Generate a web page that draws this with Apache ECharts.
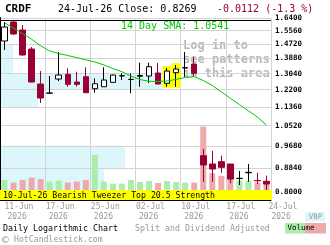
<!DOCTYPE html>
<html><head><meta charset="utf-8">
<script src="https://cdn.jsdelivr.net/npm/echarts@6/dist/echarts.min.js"></script>
<style>html,body{margin:0;padding:0;background:#fff}#c{width:330px;height:245px}</style>
</head><body><div id="c"></div>
<script>
const ticker = 'CRDF';
const dates = ['11-Jun-26','12-Jun-26','15-Jun-26','16-Jun-26','17-Jun-26','18-Jun-26','22-Jun-26','23-Jun-26','24-Jun-26','25-Jun-26','26-Jun-26','29-Jun-26','30-Jun-26','01-Jul-26','02-Jul-26','06-Jul-26','07-Jul-26','08-Jul-26','09-Jul-26','10-Jul-26','13-Jul-26','14-Jul-26','15-Jul-26','16-Jul-26','17-Jul-26','20-Jul-26','21-Jul-26','22-Jul-26','23-Jul-26','24-Jul-26'];
const open  = [1.4915,1.6131,1.5607,1.4430,1.2489,1.2025,1.2749,1.2999,1.2592,1.2870,1.2249,1.2350,1.2577,1.2915,1.2725,1.2895,1.2908,1.3069,1.2525,1.3085,1.3350,1.3563,0.9292,0.8979,0.9065,0.8979,0.8455,0.8660,0.8390,0.8360];
const high  = [1.6131,1.6280,1.5933,1.4550,1.3177,1.2908,1.4252,1.3325,1.3139,1.3380,1.2786,1.3380,1.2980,1.3053,1.3053,1.3636,1.3636,1.3620,1.3341,1.3507,1.4252,1.3961,0.9553,0.9474,0.9292,0.8979,0.8724,0.8979,0.8662,0.8560];
const low   = [1.4370,1.5300,1.4050,1.2580,1.1549,1.2020,1.2644,1.2350,1.2350,1.2040,1.2050,1.2340,1.2570,1.2697,1.2020,1.2350,1.2540,1.2489,1.2350,1.2350,1.2870,1.2870,0.8346,0.8346,0.8662,0.8292,0.8235,0.8346,0.8269,0.8040];
const close = [1.5802,1.5352,1.4077,1.2592,1.1789,1.2035,1.2961,1.2473,1.2473,1.2050,1.2504,1.2697,1.2961,1.2924,1.2733,1.2935,1.3413,1.2489,1.3177,1.3286,1.3358,1.3053,0.8943,0.8796,0.8858,0.8440,0.8465,0.8677,0.8381,0.8269];
const volume = [100,87,100,112,105,92,97,87,92,100,225,92,82,82,100,90,95,85,95,90,87,87,367,134,120,105,97,97,87,92];
const sma14 = [1.6085,1.5730,1.5377,1.5026,1.4622,1.4317,1.4164,1.4048,1.3927,1.3801,1.3677,1.3512,1.3314,1.3139,1.2908,1.2722,1.2628,1.2618,1.2644,1.2733,1.2828,1.2876,1.2670,1.2415,1.2089,1.1779,1.1477,1.1184,1.0896,1.0541];
const vbpLow    = [0.800,0.884,1.136,1.220,1.304,1.388];
const vbpHigh   = [0.884,0.968,1.220,1.304,1.388,1.472];
const vbpVolume = [104,125,38,163,13,13];
const yTicks = [0.8000,0.8840,0.9680,1.0520,1.1360,1.2200,1.3040,1.3880,1.4720,1.5560,1.6400];
const xLabelDates = ['11-Jun-26','17-Jun-26','25-Jun-26','02-Jul-26','10-Jul-26','17-Jul-26','24-Jul-26'];
const patternDates = ['09-Jul-26','10-Jul-26'];
const patternText = '10-Jul-26 Bearish Tweezer Top 20.5 Strength';

const FONT = '"DejaVu Sans Mono","Liberation Mono",monospace';
const RED = '#990033', GRAY = '#999999';
const n = dates.length, last = n - 1;
const chg = close[last] - close[last - 1];
const pct = chg / close[last - 1] * 100;

const candleData = dates.map((d, i) => [open[i], close[i], low[i], high[i]]);
const volData = volume.map((v, i) => ({value: v, itemStyle: {color: close[i] >= open[i] ? '#aaeeaa' : '#eeaaaa'}}));
const vbpData = vbpLow.map((l, i) => [l, vbpHigh[i], vbpVolume[i]]);
const hlData = patternDates.map(d => { const i = dates.indexOf(d); return [i, high[i], low[i]]; });
const labelIdx = xLabelDates.map(d => dates.indexOf(d));

const chart = echarts.init(document.getElementById('c'), null, {renderer: 'canvas'});
const rs = (pad) => ({fontSize: 8, fontFamily: FONT, color: GRAY, lineHeight: 10, padding: [0, 0, 0, pad]});
chart.setOption({
  animation: false,
  backgroundColor: '#ffffff',
  grid: {left: 0, right: 59, top: 18, bottom: 45, containLabel: false, outerBoundsMode: 'none'},
  xAxis: [{
    type: 'category', data: dates, boundaryGap: true,
    axisLine: {show: true, lineStyle: {color: '#000', width: 1}},
    axisTick: {show: false},
    axisLabel: {
      interval: (i) => labelIdx.includes(i), align: 'left', margin: 2,
      formatter: (v, i) => { const p = v.split('-'); const k = i === 0 ? 'a' : (i === last ? 'c' : 'b'); return `{${k}|${p[0]}-${p[1]}}\n{${k}y|20${p[2]}}`; },
      rich: {a: rs(0), ay: rs(3), b: rs(5), by: rs(8), c: rs(2), cy: rs(5)}
    },
    splitLine: {show: true, interval: (i) => i % 5 === 0, lineStyle: {color: '#d4d4d4', width: 1}}
  }, {
    type: 'value', min: 0, max: 271, show: false
  }],
  yAxis: [{
    type: 'log', logBase: 10, min: 0.774, max: 1.64, position: 'right',
    axisLine: {show: true, lineStyle: {color: '#000', width: 2}},
    axisTick: {show: false, customValues: yTicks},
    axisLabel: {customValues: yTicks, formatter: v => Number(v).toFixed(4), fontSize: 7.5, fontWeight: 'bold', fontFamily: FONT, color: '#000', margin: 4},
    splitLine: {show: true, lineStyle: {color: '#d4d4d4', width: 1}}
  }, {
    type: 'value', min: 0, max: 910, show: false
  }],
  series: [{
    type: 'custom', xAxisIndex: 1, yAxisIndex: 0, z: -1, silent: true,
    data: vbpData, encode: {x: 2, y: [0, 1]},
    renderItem: (params, api) => {
      const p0 = api.coord([0, api.value(1)]);
      const p1 = api.coord([api.value(2), api.value(0)]);
      return {type: 'rect', shape: {x: p0[0], y: p0[1], width: p1[0] - p0[0], height: p1[1] - p0[1]}, style: {fill: '#dcf7fc'}};
    }
  }, {
    type: 'custom', xAxisIndex: 0, yAxisIndex: 0, z: 1, silent: true,
    data: hlData, encode: {x: 0, y: [1, 2]},
    renderItem: (params, api) => {
      const a = api.coord([api.value(0), api.value(1)]);
      const b = api.coord([api.value(0), api.value(2)]);
      const w = api.size([1, 0])[0];
      return {type: 'rect', shape: {x: a[0] - w / 2, y: a[1] - 2, width: w, height: b[1] - a[1] + 3}, style: {fill: '#ffff00'}};
    }
  }, {
    type: 'bar', xAxisIndex: 0, yAxisIndex: 1, data: volData, barWidth: 6, z: 2, silent: true
  }, {
    type: 'candlestick', xAxisIndex: 0, yAxisIndex: 0, data: candleData, barWidth: 6, z: 3,
    itemStyle: {color: '#ffffff', color0: RED, borderColor: '#000000', borderColor0: RED, borderColorDoji: '#000000', borderWidth: 1}
  }, {
    type: 'line', xAxisIndex: 0, yAxisIndex: 0, data: sma14, showSymbol: false, z: 4,
    lineStyle: {color: '#00c800', width: 1}
  }],
  graphic: [
    {type: 'text', z: -2, x: 183, y: 46, style: {text: 'Log in to', font: `bold 12px ${FONT}`, fill: '#b8b8b8', verticalAlign: 'middle'}},
    {type: 'text', z: -2, x: 183, y: 60, style: {text: 'see patterns', font: `bold 12px ${FONT}`, fill: '#b8b8b8', verticalAlign: 'middle'}},
    {type: 'text', z: -2, x: 183, y: 74, style: {text: 'in this area', font: `bold 12px ${FONT}`, fill: '#b8b8b8', verticalAlign: 'middle'}},
    {type: 'line', z: 10, shape: {x1: 0, y1: 20.5, x2: 271, y2: 20.5}, style: {stroke: '#000', lineWidth: 1}},
    {type: 'rect', z: 10, shape: {x: 0, y: 190, width: 272, height: 10}, style: {fill: '#ffff00'}},
    {type: 'text', z: 11, x: 3, y: 195.5, style: {text: patternText, font: `8.2px ${FONT}`, fill: '#000', verticalAlign: 'middle'}},
    {type: 'text', z: 11, x: 5, y: 9.5, style: {text: ticker, font: `bold 11px ${FONT}`, fill: '#000', verticalAlign: 'middle'}},
    {type: 'text', z: 11, x: 58, y: 9.5, style: {text: `${dates[last]} Close: ${close[last].toFixed(4)}`, font: `10px ${FONT}`, fill: '#000', verticalAlign: 'middle'}},
    {type: 'text', z: 11, x: 217, y: 9.5, style: {text: `${chg.toFixed(4)} (${pct.toFixed(1)} %)`, font: `10px ${FONT}`, fill: RED, verticalAlign: 'middle'}},
    {type: 'text', z: 11, x: 121, y: 26, style: {text: `14 Day SMA: ${sma14[last].toFixed(4)}`, font: `10px ${FONT}`, fill: '#00c800', verticalAlign: 'middle'}},
    {type: 'text', z: 11, x: 3, y: 229, style: {text: 'Daily Logarithmic Chart', font: `8.3px ${FONT}`, fill: '#000', verticalAlign: 'middle'}},
    {type: 'text', z: 11, x: 135, y: 229, style: {text: 'Split and Dividend Adjusted', font: `8.3px ${FONT}`, fill: GRAY, verticalAlign: 'middle'}},
    {type: 'text', z: 11, x: 2, y: 240, style: {text: '\u00A9', font: `11px ${FONT}`, fill: GRAY, verticalAlign: 'middle'}},
    {type: 'text', z: 11, x: 14, y: 239.5, style: {text: 'HotCandlestick.com', font: `8.2px ${FONT}`, fill: GRAY, verticalAlign: 'middle'}},
    {type: 'rect', z: 11, shape: {x: 305, y: 212, width: 20, height: 9.5}, style: {fill: '#dcf7fc'}},
    {type: 'text', z: 12, x: 315.5, y: 217, style: {text: 'VBP', font: `7.5px ${FONT}`, fill: GRAY, align: 'center', verticalAlign: 'middle'}},
    {type: 'rect', z: 11, shape: {x: 285, y: 223, width: 20, height: 10.5}, style: {fill: '#aaeeaa'}},
    {type: 'rect', z: 11, shape: {x: 305, y: 223, width: 21, height: 10.5}, style: {fill: '#eeaaaa'}},
    {type: 'text', z: 12, x: 301, y: 228.5, style: {text: 'Volume', font: `7.5px ${FONT}`, fill: '#000', align: 'center', verticalAlign: 'middle'}}
  ]
});
</script></body></html>
